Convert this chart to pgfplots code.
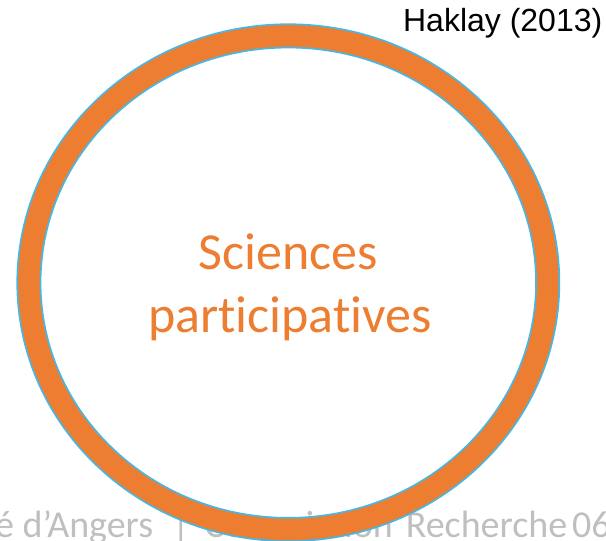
\documentclass[border=0pt]{standalone}
\usepackage{fontspec}
\setmainfont{Carlito}[Ligatures=NoCommon]
\newfontfamily\arialfont{Liberation Sans}
\usepackage{pgfplots}
\pgfplotsset{compat=1.18}
\definecolor{ringorange}{HTML}{ED7D31}
\definecolor{ringblue}{HTML}{45B8E6}
\definecolor{footgray}{HTML}{BFBFBF}
\begin{document}
\begin{tikzpicture}
\useasboundingbox (0,0) rectangle (606bp,541bp);
\begin{axis}[at={(0,0)}, anchor=south west, hide axis, scale only axis,
  width=606bp, height=541bp, xmin=0, xmax=606, ymin=0, ymax=541, clip=false]
\addplot[draw=none] coordinates {(0,0) (606,541)};
\node[footgray, anchor=base west, inner sep=0pt, font=\fontsize{38bp}{40bp}\selectfont] at (axis cs:-5,4) {é d’Angers\hspace{19bp}|\hspace{15bp}Commission\hspace{13bp}Recherche\hspace{5bp}06};
\draw[ringblue, line width=25bp] (axis cs:288.3,258.3) ellipse [x radius=259.4, y radius=246.8];
\draw[ringorange, line width=21.5bp] (axis cs:288.3,258.3) ellipse [x radius=259.4, y radius=246.8];
\node[ringorange, anchor=base, inner sep=0pt, font=\fontsize{52bp}{54bp}\selectfont] at (axis cs:288,271) {Sciences};
\node[ringorange, anchor=base, inner sep=0pt, font=\fontsize{52bp}{54bp}\selectfont] at (axis cs:290,208) {participatives};
\node[black, anchor=base east, inner sep=0pt, font=\arialfont\fontsize{32bp}{34bp}\selectfont] at (axis cs:602.5,509.3) {Haklay (2013)};
\end{axis}
\end{tikzpicture}
\end{document}
